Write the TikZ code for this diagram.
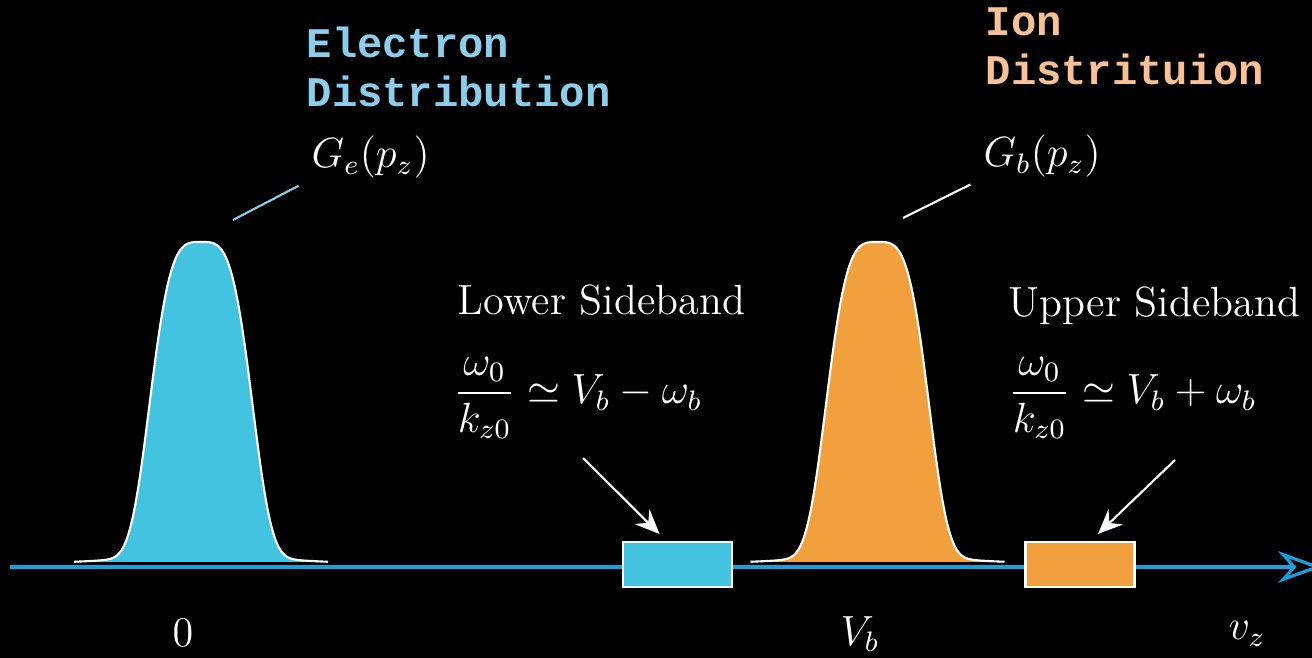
\documentclass[tikz,border=0pt]{standalone}
\usepackage{fontspec}
\setmonofont{Liberation Mono}
\usetikzlibrary{arrows.meta}
\definecolor{elec}{RGB}{67,195,224}
\definecolor{ion}{RGB}{242,159,62}
\definecolor{eleclab}{RGB}{140,205,235}
\definecolor{ionlab}{RGB}{250,192,150}
\definecolor{axisblue}{RGB}{24,160,222}
\tikzset{
  dist/.style={draw=white, line width=0.6pt},
  sidebox/.style={draw=white, line width=0.6pt, minimum width=1.09cm, minimum height=0.45cm, inner sep=0pt},
  title/.style={font=\fontsize{12}{14.2}\selectfont\ttfamily\bfseries, align=left, anchor=base west, inner sep=0pt},
  lab/.style={text=white, font=\fontsize{12}{14}\selectfont, inner sep=0pt},
  pointer/.style={white, line width=0.6pt, -{Stealth[length=7pt, width=6pt, inset=2.5pt]}},
}
\begin{document}
\begin{tikzpicture}[x=0.01cm, y=-0.01cm]
  \useasboundingbox (0,0) rectangle (1312,658);
  \fill[black] (0,0) rectangle (1312,658);
  % distributions
  \foreach \c/\col in {201/elec, 877.5/ion}
    \filldraw[dist, fill=\col] plot[domain=-127:127, samples=120, smooth]
      ({\c+\x}, {563-312*exp(-0.693*(abs(\x)/51)^3.7)-9*exp(-(\x/90)^2)});
  % velocity axis
  \coordinate (ax0) at (10,567);
  \coordinate (ax1) at (1322,567);
  \draw[axisblue, line width=0.9pt, -{Stealth[open, length=12.5pt, width=9pt, inset=4pt]}] (ax0) -- (ax1);
  % sidebands
  \node[sidebox, fill=elec] (lsb) at (677.5,564.5) {};
  \node[sidebox, fill=ion] (usb) at (1080,564.5) {};
  % titles
  \node[title, text=eleclab] (etitle) at (306,107) {Electron\\Distribution};
  \node[title, text=ionlab] (ititle) at (985,85) {Ion\\Distrituion};
  \node[lab, anchor=base west] (ge) at (311,168) {$G_e(p_z)$};
  \node[lab, anchor=base west] (gb) at (983,167) {$G_b(p_z)$};
  \coordinate (epk) at (233,220);
  \coordinate (ipk) at (903,218);
  \draw[eleclab, line width=0.6pt, shorten >=4pt] (epk) -- (ge.south west);
  \draw[white, line width=0.6pt, shorten >=4pt] (ipk) -- (gb.south west);
  % sideband labels
  \node[lab, anchor=base west] (lsl) at (457,315) {Lower Sideband};
  \node[lab, anchor=base west] (usl) at (1008,317) {Upper Sideband};
  \node[lab, anchor=west] (lsf) at (453,398) {$\displaystyle\frac{\omega_0}{k_{z0}}\simeq V_b-\omega_b$};
  \node[lab, anchor=west] (usf) at (1008,398) {$\displaystyle\frac{\omega_0}{k_{z0}}\simeq V_b+\omega_b$};
  \coordinate (lsa) at (583,458);
  \coordinate (usa) at (1175,460);
  \draw[pointer] (lsa) -- ([shift={(-18,-7)}]lsb.north);
  \draw[pointer] (usa) -- ([shift={(18,-7)}]usb.north);
  % axis marks
  \node[lab] (zero) at (183,633) {$0$};
  \node[lab] (vb) at (860,634) {$V_b$};
  \node[lab] (vz) at (1247,634) {$v_z$};
\end{tikzpicture}
\end{document}
